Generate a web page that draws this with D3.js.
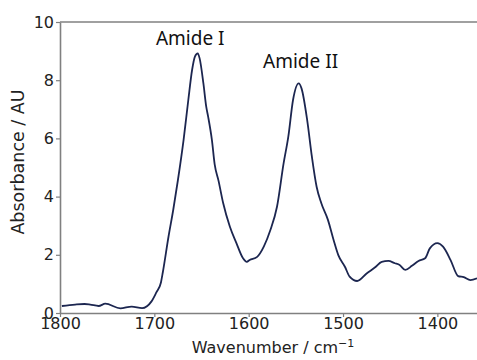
<!DOCTYPE html>
<html>
<head>
<meta charset="utf-8">
<script src="https://cdn.jsdelivr.net/npm/d3@7"></script>
<style>
  body { margin: 0; background: #fff; }
  svg { display: block; }
</style>
</head>
<body>
<svg id="chart" width="477" height="360"></svg>
<script>
// spectrum
const wavenumber = [1798, 1784, 1774, 1768, 1759, 1752, 1736, 1724, 1713, 1703, 1698, 1693,
  1691, 1685, 1680, 1675, 1669, 1664, 1660, 1657, 1654, 1652, 1648, 1645, 1643, 1639, 1636,
  1632, 1627, 1620, 1613, 1606, 1602, 1599, 1591, 1584, 1577, 1570, 1563, 1558, 1553,
  1547, 1544, 1538, 1533, 1528, 1523, 1516, 1510, 1505, 1498, 1493, 1485, 1475, 1466, 1459,
  1452, 1445, 1440, 1434, 1427, 1420, 1413, 1408, 1400, 1394, 1386, 1378, 1372, 1365, 1358]
const absorbance = [0.24, 0.29, 0.31, 0.29, 0.24, 0.32, 0.16, 0.22, 0.17, 0.4, 0.7, 1.05,
  1.4, 2.62, 3.54, 4.57, 5.95, 7.32, 8.35, 8.81, 8.92, 8.75, 7.89, 7.09, 6.75, 5.95, 5.1,
  4.55, 3.77, 2.97, 2.4, 1.88, 1.76, 1.82, 1.93, 2.28, 2.85, 3.65, 5.14, 6.06, 7.32,
  7.89, 7.72, 6.63, 5.37, 4.34, 3.77, 3.2, 2.51, 1.99, 1.59, 1.25, 1.1, 1.36, 1.57, 1.76,
  1.79, 1.71, 1.65, 1.48, 1.62, 1.79, 1.88, 2.22, 2.4, 2.28, 1.82, 1.27, 1.23, 1.13, 1.19]

const xTicks = [1800, 1700, 1600, 1500, 1400]
const yTicks = [0, 2, 4, 6, 8, 10]

const peakLabels = ['Amide I', 'Amide II']
const peakX = [1662, 1545]
const peakY = [9.2, 8.42]

const svg = d3.select('#chart')
const x = d3.scaleLinear().domain([1800, 1358]).range([60, 477])
const y = d3.scaleLinear().domain([0, 10]).range([313, 22])

const spine = '#808080'
const tickFont = '16px "DejaVu Sans"'

// x axis
const gx = svg.append('g')
  .attr('transform', `translate(0,${y(0)})`)
  .call(d3.axisBottom(x).tickValues(xTicks).tickFormat(d3.format('d'))
    .tickSize(4).tickPadding(1).tickSizeOuter(0))
gx.select('.domain').attr('stroke', spine).attr('stroke-width', 1.6)
gx.selectAll('.tick line').attr('stroke', spine).attr('stroke-width', 1.2)
gx.selectAll('.tick text').style('font', tickFont).attr('fill', '#222')

// y axis
const gy = svg.append('g')
  .attr('transform', `translate(${x(1800)},0)`)
  .call(d3.axisLeft(y).tickValues(yTicks).tickSize(4).tickPadding(2).tickSizeOuter(0))
gy.select('.domain').attr('stroke', spine).attr('stroke-width', 1.6)
gy.selectAll('.tick line').attr('stroke', spine).attr('stroke-width', 1.2)
gy.selectAll('.tick text').style('font', tickFont).attr('fill', '#222')

// top spine
svg.append('line')
  .attr('x1', x(1800)).attr('x2', x(1358))
  .attr('y1', y(10)).attr('y2', y(10))
  .attr('stroke', spine).attr('stroke-width', 1.6)

// spectrum
const pts = wavenumber.map((w, i) => [w, absorbance[i]])
svg.append('path')
  .datum(pts)
  .attr('fill', 'none')
  .attr('stroke', '#1c2650')
  .attr('stroke-width', 1.8)
  .attr('stroke-linejoin', 'round')
  .attr('d', d3.line().x(d => x(d[0])).y(d => y(d[1])).curve(d3.curveMonotoneX))

// peak labels
svg.selectAll('text.peak')
  .data(peakLabels)
  .join('text')
  .attr('class', 'peak')
  .attr('x', (d, i) => x(peakX[i]))
  .attr('y', (d, i) => y(peakY[i]))
  .attr('text-anchor', 'middle')
  .style('font', '19px "Noto Sans"')
  .attr('fill', '#111')
  .text(d => d)

// axis titles
const xt = svg.append('text')
  .attr('x', 273).attr('y', 353)
  .attr('text-anchor', 'middle')
  .style('font', '16px "DejaVu Sans"')
  .attr('fill', '#222')
xt.append('tspan').text('Wavenumber / cm')
xt.append('tspan').attr('dy', -6).style('font-size', '11px').text('\u22121')

svg.append('text')
  .attr('transform', `translate(24,162) rotate(-90)`)
  .attr('text-anchor', 'middle')
  .style('font', '17.5px "DejaVu Sans"')
  .attr('fill', '#222')
  .text('Absorbance / AU')
</script>
</body>
</html>
